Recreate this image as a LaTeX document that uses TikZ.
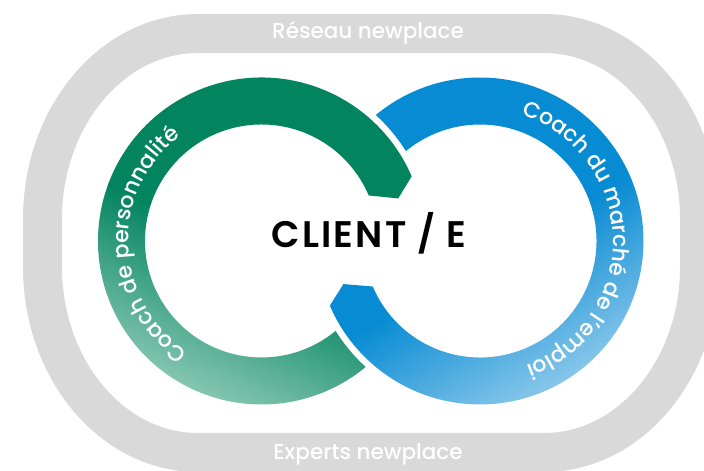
\documentclass[tikz,border=0pt]{standalone}
\usepackage{fontspec}
\setmainfont{Poppins Medium}
\newfontfamily\clientfont{Poppins SemiBold}[LetterSpace=6]
\usetikzlibrary{calc,decorations.text}

\definecolor{bandgrey}{HTML}{D9D9D9}
\definecolor{greendark}{HTML}{02845F}
\definecolor{greenlight}{HTML}{88C7B2}
\definecolor{bluedark}{HTML}{078BD3}
\definecolor{bluelight}{HTML}{8DC9EB}
\pgfdeclareverticalshading{greenfade}{100bp}{color(0bp)=(greenlight); color(26bp)=(greenlight); color(48bp)=(greendark); color(100bp)=(greendark)}
\pgfdeclareverticalshading{bluefade}{100bp}{color(0bp)=(bluelight); color(26bp)=(bluelight); color(48bp)=(bluedark); color(100bp)=(bluedark)}

\begin{document}
\begin{tikzpicture}[x=1pt,y=1pt,
   band/.style={draw=bandgrey,line width=39pt},
   bandlabel/.style={text=white,anchor=base,font=\fontsize{21.5}{22}\selectfont},
   client/.style={anchor=base,font=\clientfont\fontsize{37}{38}\selectfont},
   greenring/.style={shading=greenfade,shading angle=-25},
   bluering/.style={shading=bluefade,shading angle=30},
   ringtext/.style={decorate,decoration={text along path,text align=center,
      text color=white,text={|\fontsize{22}{22}\selectfont|#1}}}]
   \useasboundingbox (0,0) rectangle (704,471);
   \coordinate (cg) at (261.5,230);
   \coordinate (cb) at (480,230);

   \draw[band] (198,437.5) -- (544,437.5)
      arc[start angle=90,end angle=0,x radius=155.5pt,y radius=185.5pt] -- (699.5,204)
      arc[start angle=0,end angle=-90,x radius=155.5pt,y radius=185.5pt] -- (198,18.5)
      arc[start angle=270,end angle=180,x radius=155.5pt,y radius=185.5pt] -- (42.5,252)
      arc[start angle=180,end angle=90,x radius=155.5pt,y radius=185.5pt] -- cycle;
   \node[bandlabel] (reseau)  at (368,432.3) {Réseau newplace};
   \node[bandlabel] (experts) at (368,11.7)  {Experts newplace};

   \shade[greenring] ($(cg)+(23.3:163.5pt)$)
      arc[start angle=23.3,end angle=309.6,radius=163.5pt]
      arc[start angle=227.8,end angle=211.9,radius=170pt]
      arc[start angle=309.5,end angle=23,radius=116.5pt]
      -- ($(cg)+(17.3:143.2pt)$) -- cycle;
   \shade[bluering] ($(cb)+(129.6:163.5pt)$)
      arc[start angle=129.6,end angle=-156.7,radius=163.5pt]
      -- ($(cb)+(-162.5:143.2pt)$) -- ($(cb)+(-157:116.5pt)$)
      arc[start angle=-157,end angle=129.5,radius=116.5pt]
      arc[start angle=31.9,end angle=47.8,radius=170pt] -- cycle;

   \path[ringtext=Coach de personnalité] ($(cg)+(250:133pt)$)
      arc[start angle=250,end angle=114,radius=133pt];
   \path[ringtext=Coach du marché de l’emploi] ($(cb)+(86:133pt)$)
      arc[start angle=86,end angle=-84,radius=133pt];

   \node[client] (client) at (369,223) {CLIENT / E};
\end{tikzpicture}
\end{document}
